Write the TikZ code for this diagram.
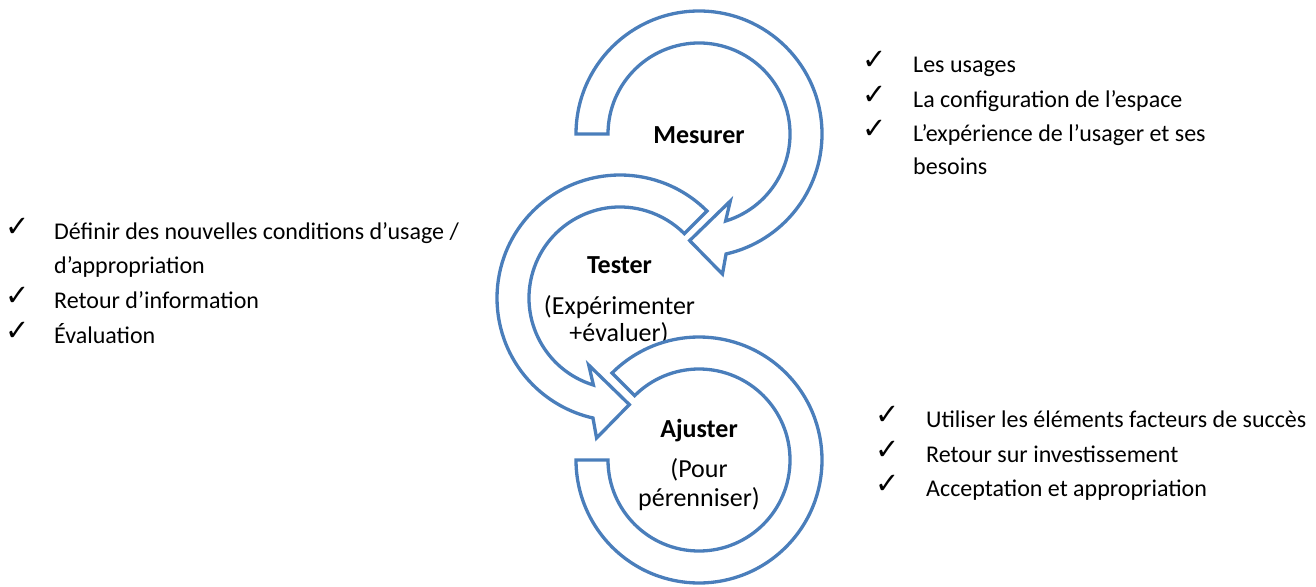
\documentclass[tikz,border=0pt]{standalone}
\usepackage{fontspec}
\setmainfont{Carlito}
\newfontfamily\symf{DejaVu Sans}
\usetikzlibrary{calc}
\definecolor{ringblue}{HTML}{4A7EBB}
\begin{document}
\begin{tikzpicture}[x=1pt,y=-1pt,
  ring/.style={draw=ringblue, line width=3.3pt, fill=white, line join=miter},
  lbl/.style={font=\fontsize{26}{30}\selectfont\bfseries, inner sep=0pt, anchor=base},
  sublbl/.style={font=\fontsize{26}{30}\selectfont, inner sep=0pt, anchor=base},
  item/.style={font=\fontsize{24}{28}\selectfont, anchor=base west, inner sep=0pt},
  chk/.style={font=\symf\fontsize{29}{32}\selectfont, anchor=base west, inner sep=0pt}]
\useasboundingbox (0,0) rectangle (1316,586);
\coordinate (m) at (699,134);
\coordinate (t) at (620,298);
\coordinate (a) at (699,460);

% Mesurer arrow
\draw[ring] ($(m)+(180:91)$) -- ($(m)+(180:123)$)
  arc[start angle=180, end angle=437.3, radius=123]
  -- ($(m)+(80.5:142)$) -- ($(m)+(95:107)$) -- ($(m)+(65:74)$)
  -- ($(m)+(73:91)$) arc[start angle=433, end angle=180, radius=91] -- cycle;
\node[lbl] (mes) at (699,143) {Mesurer};

% Tester arrow
\draw[ring] ($(t)+(315:91)$) -- ($(t)+(315:123)$)
  arc[start angle=315, end angle=102.7, radius=123]
  -- ($(t)+(99.5:142)$) -- ($(t)+(85:107)$) -- ($(t)+(115:74)$)
  -- ($(t)+(107:91)$) arc[start angle=107, end angle=315, radius=91] -- cycle;
\node[lbl] (tes) at (619.5,273) {Tester};
\node[sublbl] (tes1) at (619.5,314) {(Expérimenter};
\node[sublbl] (tes2) at (619,341) {+évaluer)};

% Ajuster arrow
\draw[ring] ($(a)+(225:91)$) -- ($(a)+(225:123)$)
  arc[start angle=225, end angle=540, radius=123]
  -- ($(a)+(540:91)$) arc[start angle=540, end angle=225, radius=91] -- cycle;
\node[lbl] (aju) at (699,437) {Ajuster};
\node[sublbl] (aju1) at (699,477) {(Pour};
\node[sublbl] (aju2) at (699,506) {pérenniser)};

% right top list
\node[chk] (c1) at (862,70) {✓};
\node[item] (i1) at (913,73) {Les usages};
\node[chk] (c2) at (862,104) {✓};
\node[item] (i2) at (913,107) {La configuration de l’espace};
\node[chk] (c3) at (862,138) {✓};
\node[item] (i3) at (913,141) {L’expérience de l’usager et ses};
\node[item] (i3b) at (913,174) {besoins};

% left list
\node[chk] (d1) at (5,236) {✓};
\node[item] (j1) at (54,239) {Définir des nouvelles conditions d’usage /};
\node[item] (j1b) at (54,273) {d’appropriation};
\node[chk] (d2) at (5,305) {✓};
\node[item] (j2) at (54,308) {Retour d’information};
\node[chk] (d3) at (5,340) {✓};
\node[item] (j3) at (54,343) {Évaluation};

% right bottom list
\node[chk] (e1) at (875,424) {✓};
\node[item] (k1) at (926,427) {Utiliser les éléments facteurs de succès};
\node[chk] (e2) at (875,459) {✓};
\node[item] (k2) at (926,462) {Retour sur investissement};
\node[chk] (e3) at (875,493) {✓};
\node[item] (k3) at (926,496) {Acceptation et appropriation};
\end{tikzpicture}
\end{document}
